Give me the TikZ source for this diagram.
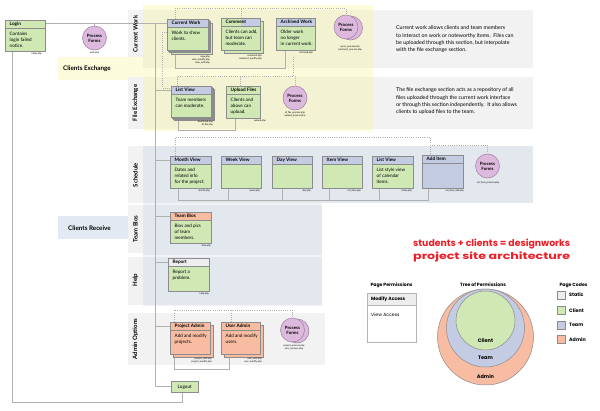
\documentclass[tikz,border=0pt]{standalone}
\usepackage{fontspec}
\setmainfont{Lato}
\newfontfamily\geofont{Poppins}
\pgfdeclarelayer{bands}
\pgfdeclarelayer{wires}
\pgfsetlayers{bands,wires,main}

\definecolor{grn}{HTML}{CFE8B4}
\definecolor{blu}{HTML}{C4CCE3}
\definecolor{sal}{HTML}{F7BCA2}
\definecolor{vio}{HTML}{DDB9DD}
\definecolor{vioedge}{HTML}{9C7E9C}
\definecolor{sta}{HTML}{EDEDED}
\definecolor{edge}{HTML}{8C8C8C}
\definecolor{wirec}{HTML}{B0B0B0}
\definecolor{bandgrey}{HTML}{F2F2F2}
\definecolor{bandblue}{HTML}{E3E8EF}
\definecolor{tabblue}{HTML}{E2E9F2}
\definecolor{hiyel}{HTML}{F5F59A}
\definecolor{ttlred}{HTML}{EE1C25}
\definecolor{permedge}{HTML}{B4B4B4}

\tikzset{
  pagebox/.style={draw=edge, line width=0.5pt, anchor=north west, inner sep=0pt, outer sep=0pt},
  pagehead/.style={draw=edge, line width=0.5pt, anchor=north west, inner sep=0pt, outer sep=0pt, minimum height=8.5},
  pagetitle/.style={anchor=west, inner sep=0pt, font=\fontsize{4.7}{5}\selectfont\bfseries},
  pagetext/.style={anchor=north west, inner sep=0pt, align=left, font=\fontsize{4.6}{6.2}\selectfont},
  halfgreen/.style={path picture={\fill[grn] (path picture bounding box.north west) rectangle (path picture bounding box.south);}},
  procform/.style={circle, draw=vioedge, fill=vio, line width=0.5pt, minimum size=24, inner sep=0pt, align=center, font=\fontsize{4.4}{5}\selectfont\bfseries},
  fname/.style={inner sep=0pt, align=right, anchor=north east, font=\fontsize{2.4}{2.9}\selectfont},
  fnamec/.style={inner sep=0pt, align=center, anchor=north, font=\fontsize{2.4}{2.9}\selectfont},
  wire/.style={draw=wirec, line width=0.7pt},
  dots/.style={draw=wirec, line width=0.6pt, dash pattern=on 0.6pt off 1.6pt},
  seclabel/.style={rotate=90, inner sep=0pt, font=\fontsize{6}{7}\selectfont\bfseries},
  tablabel/.style={anchor=west, inner sep=0pt, font=\fontsize{6.3}{7}\selectfont\bfseries},
  desc/.style={anchor=north west, inner sep=0pt, align=left, font=\fontsize{5.3}{7.4}\selectfont},
  legendhead/.style={inner sep=0pt, font=\geofont\bfseries\fontsize{4.6}{5}\selectfont},
  treelab/.style={inner sep=0pt, font=\geofont\bfseries\fontsize{5}{6}\selectfont},
  codesq/.style={draw=edge, line width=0.4pt, minimum size=8, inner sep=0pt},
  codelab/.style={anchor=west, inner sep=0pt, font=\geofont\bfseries\fontsize{4.8}{5}\selectfont},
}

% name, x, y, width, height, header style, body fill, title, body text
\newcommand\webpage[9]{%
  \node[pagebox, fill=#7, minimum width=#4, minimum height=#5] (#1) at (#2,#3) {};
  \node[pagehead, #6, minimum width=#4] (#1h) at (#1.north west) {};
  \node[pagetitle] (#1t) at ([xshift=4.5pt]#1h.west) {#8};
  \node[pagetext] (#1b) at ([xshift=4.5pt,yshift=-3pt]#1h.south west) {#9};
}

\begin{document}
\begin{tikzpicture}[x=1pt,y=-1pt]
\useasboundingbox (0,0) rectangle (600,410);

% ---------- section bands ----------
\begin{pgfonlayer}{bands}
  \fill[bandgrey] (143,10) rectangle (533,68);
  \fill[bandgrey] (143,77) rectangle (533,129);
  \fill[hiyel, fill opacity=0.35] (143,5) rectangle (373,131) (58,57) rectangle (143,80);
  \fill[bandgrey] (128,10) rectangle (143,57);
  \fill[bandgrey] (128,77) rectangle (143,129);
  \fill[tabblue] (58,216) rectangle (128,239);
  \fill[bandblue, fill opacity=0.5] (143,146) rectangle (322,306);
  \fill[bandblue] (143,146) rectangle (533,203);
  \fill[bandblue] (143,205) rectangle (322,255);
  \fill[bandblue] (143,257) rectangle (322,305);
  \fill[bandgrey] (128,146) rectangle (143,203);
  \fill[bandgrey] (128,205) rectangle (143,253);
  \fill[bandgrey] (128,257) rectangle (143,305);
  \fill[bandgrey] (128,313) rectangle (325,365);
\end{pgfonlayer}

\node[tablabel] (tabex) at (63,69) {Clients Exchange};
\node[tablabel] (tabrc) at (68,228) {Clients Receive};

\node[seclabel] (lcw) at (135.5,34) {Current Work};
\node[seclabel] (lfe) at (135.5,103) {File Exchange};
\node[seclabel] (lsch) at (135.5,175) {Schedule};
\node[seclabel] (ltb) at (135.5,229) {Team Bios};
\node[seclabel] (lhelp) at (135.5,280) {Help};
\node[seclabel] (ladm) at (135.5,339) {Admin Options};

% ---------- login ----------
\webpage{login}{5}{20}{40}{31}{fill=grn}{grn}{Login}{Contains\\login failed\\notice.}
\node[fname] (loginf) at (42,52.5) {index.php};
\node[procform] (auth) at (94.5,38) {Process\\Forms};
\node[fnamec] (authf) at (94.5,51.5) {auth.php};

% ---------- current work ----------
\foreach \s in {4,2.7,1.4}
  \draw[pagebox, fill=grn] (167+\s,19+\s) rectangle +(41,31);
\webpage{cw}{167}{19}{41}{31}{fill=blu}{grn}{Current Work}{Work to show\\clients.}
\node[fname] (cwf) at (210,55.5) {view.php\\view\_modify.php\\view\_edit.php};

\draw[pagebox, fill=grn] (224,21) rectangle +(39,32);
\webpage{cmt}{221}{18}{39}{32}{fill=blu, halfgreen}{grn}{Comment}{Clients can add,\\but team can\\moderate.}
\node[fname] (cmtf) at (262,54.5) {comment.php\\comment\_modify.php};

\webpage{arch}{276}{18}{39}{32}{fill=blu}{grn}{Archived Work}{Older work\\no longer\\in current work.}
\node[fname] (archf) at (313,51.5) {archived.php};

\node[procform] (cwpb) at (350.5,28) {};
\node[procform] (cwp) at (346,27) {Process\\Forms};
\node[fnamec] (cwpf) at (350,45.5) {upsm\_process.php\\comment\_process.php};

% ---------- file exchange ----------
\foreach \s in {3.5,2.3,1.1}
  \draw[pagebox, fill=grn] (171+\s,86+\s) rectangle +(40,31);
\webpage{flv}{171}{86}{40}{31}{fill=blu}{grn}{List View}{Team members\\can moderate.}
\node[fname] (flvf) at (213,121) {download.php\\dl\_file.php};

\webpage{upl}{226}{86}{34}{32}{fill=grn}{grn}{Upload Files}{Clients and\\above can\\upload.}
\node[fname] (uplf) at (266,119.5) {upload.php};

\node[procform] (fep) at (295,98) {Process\\Forms};
\node[fnamec] (fepf) at (295,111.5) {dl\_file\_process.php\\upload\_process.php};

% ---------- schedule ----------
\webpage{month}{170}{156}{41}{32}{fill=blu}{grn}{Month View}{Dates and\\related info\\for the project.}
\webpage{week}{221}{156}{40}{32}{fill=blu}{grn}{Week View}{}
\webpage{day}{272}{156}{40}{32}{fill=blu}{grn}{Day View}{}
\webpage{item}{322}{156}{40}{32}{fill=blu}{grn}{Item View}{}
\webpage{slist}{372}{156}{41}{32}{fill=blu}{grn}{List View}{List style view\\of calendar\\items.}
\webpage{addi}{422}{155}{41}{33}{fill=blu}{blu}{Add Item}{}
\node[procform] (schp) at (487.5,166) {Process\\Forms};
\node[fname] (monthf) at (210,189.5) {month.php};
\node[fname] (weekf) at (260,189.5) {week.php};
\node[fname] (dayf) at (311,189.5) {day.php};
\node[fname] (itemf) at (361,189.5) {cal\_item.php};
\node[fname] (slistf) at (412,189.5) {index.php};
\node[fname] (addif) at (464,189.5) {cal\_item\_add.php};
\node[fnamec] (schpf) at (488,181.5) {cal\_item\_process.php};

% ---------- team bios and help ----------
\webpage{bios}{170}{212}{41}{31}{fill=sal}{grn}{Team Bios}{Bios and pics\\of team\\members.}
\node[fname] (biosf) at (211,244.5) {bios.php};
\webpage{help}{168}{258}{41}{33}{fill=sta}{grn}{Report}{Report a\\problem.}
\node[fname] (helpf) at (209,292.5) {help.php};

% ---------- admin options ----------
\draw[pagebox, fill=sal] (173,325) rectangle +(40,32);
\webpage{padm}{170}{322}{40}{32}{fill=sal}{sal}{Project Admin}{Add and modify\\projects.}
\node[fname] (padmf) at (212,357.5) {project\_edit.php\\project\_modify.php};
\draw[pagebox, fill=sal] (224,325) rectangle +(39,32);
\webpage{uadm}{221}{322}{39}{32}{fill=sal}{sal}{User Admin}{Add and modify\\users.}
\node[fname] (uadmf) at (262,357.5) {user\_edit.php\\user\_modify.php};
\node[procform] (admpb) at (297,331) {};
\node[procform] (admp) at (292.5,330) {Process\\Forms};
\node[fnamec] (admpf) at (294,344.5) {project\_process.php\\user\_process.php};

\node[draw=edge, line width=0.5pt, fill=grn, minimum width=27, minimum height=11, anchor=north west, inner sep=0pt, font=\fontsize{4.7}{5}\selectfont] (logout) at (171,381) {Logout};

% ---------- connectors ----------
\coordinate (spine) at (155,23);
\begin{pgfonlayer}{wires}
  \draw[wire] (login.east |- spine) -- (cw.west |- spine);
  \draw[wire] (auth.north) -- (auth.north |- spine);
  \draw[wire] ([xshift=7pt]login.south west) -- ++(0,351) -| ([xshift=11pt]logout.south west);
  \draw[wire] (spine) |- (logout.west);
  \draw[wire] (flvh.west) -- (flvh.west -| spine);
  \draw[wire] (monthh.west) -- (monthh.west -| spine);
  \draw[wire] (biosh.west) -- (biosh.west -| spine);
  \draw[wire] (helph.west) -- (helph.west -| spine);
  \draw[wire] (padmh.west) -- (padmh.west -| spine);
  % sibling pages
  \draw[wire] ([xshift=8pt]cw.south west) -- ++(0,18) -| ([xshift=9pt]arch.south west);
  \draw[wire] ([xshift=7pt]flv.south west) -- ++(0,13) -| ([xshift=9pt]upl.south west);
  \draw[wire] ([xshift=8pt]month.south west) -- ++(0,12) -| ([xshift=6pt]addi.south west);
  \draw[wire] ([xshift=7pt]week.south west) -- ++(0,12);
  \draw[wire] ([xshift=10pt]day.south west) -- ++(0,12);
  \draw[wire] ([xshift=7pt]item.south west) -- ++(0,12);
  \draw[wire] ([xshift=7pt]slist.south west) -- ++(0,12);
  \draw[wire] ([xshift=4pt]padm.south west) -- ++(0,15) -| ([xshift=8pt]uadm.south west);
  % form submissions
  \draw[dots] ([xshift=8pt]cw.north west) -- ++(0,-11) -| (cwp.north);
  \draw[dots] ([xshift=20pt]cmt.north west) -- ++(0,-10);
  \draw[dots] (cw.north west) ++(0,13) -| (162,88) -- (flvh.west |- 0,88);
  \draw[dots] ([xshift=6pt]flv.north west) -- ++(0,-10) -| (fep.north);
  \draw[dots] ([xshift=14pt]upl.north west) -- ++(0,-10);
  \draw[dots] ([xshift=17pt]arch.south west) ++(0,7) -- ++(0,19);
  \draw[dots] ([xshift=5pt]month.north west) -- ++(0,-19) -| ([xshift=8pt]addi.north west);
  \draw[dots] ([xshift=8pt]addi.north west) ++(0,-10) -| (schp.north);
  \draw[dots] ([xshift=4pt]padm.north west) -- ++(0,-12) -| (admp.north);
  \draw[dots] ([xshift=10pt]uadm.north west) -- ++(0,-12);
\end{pgfonlayer}

% ---------- notes ----------
\node[desc] (cwdesc) at (396,25.5) {Current work allows clients and team members\\to interact on work or noteworthy items.\ \ Files can\\be uploaded through this section, but interpolate\\with the file exchange section.};
\node[desc] (fedesc) at (396,87.5) {The file exchange section acts as a repository of all\\files uploaded through the current work interface\\or through this section independently.\ \ It also allows\\clients to upload files to the team.};

% ---------- title ----------
\node[anchor=base west, inner sep=0pt, text=ttlred] (ttl1) at (413,246.5) {\resizebox{157pt}{!}{\geofont\bfseries students + clients = designworks}};
\node[anchor=base west, inner sep=0pt, text=ttlred] (ttl2) at (413,259.5) {\resizebox{157pt}{7.6pt}{\geofont\bfseries project site architecture}};

% ---------- legend: page permissions ----------
\node[legendhead] (pptitle) at (391.5,285) {Page Permissions};
\node[draw=permedge, line width=0.8pt, fill=white, minimum width=49, minimum height=49, anchor=north west, inner sep=0pt] (perm) at (367,293) {};
\node[draw=permedge, line width=0.6pt, fill=sta, minimum width=49, minimum height=12, anchor=north west, inner sep=0pt] (permh) at (perm.north west) {};
\node[anchor=west, inner sep=0pt, font=\geofont\bfseries\fontsize{4.6}{5}\selectfont] (permm) at ([xshift=4pt]permh.west) {Modify Access};
\node[anchor=west, inner sep=0pt, font=\geofont\fontsize{4.6}{5}\selectfont] (permv) at (371,315) {View Access};

% ---------- legend: tree of permissions ----------
\node[legendhead] (tptitle) at (483,285) {Tree of Permissions};
\node[circle, draw=edge, line width=0.5pt, fill=sal, minimum size=96, inner sep=0pt] (cadm) at (485.5,337) {};
\node[circle, draw=edge, line width=0.5pt, fill=blu, minimum size=78, inner sep=0pt] (cteam) at (485.5,328) {};
\node[circle, draw=edge, line width=0.5pt, fill=grn, minimum size=59, inner sep=0pt] (ccli) at (485.5,320.5) {};
\node[treelab] (tcli) at (485.5,341) {Client};
\node[treelab] (tteam) at (485.5,358) {Team};
\node[treelab] (tadm) at (485.5,377) {Admin};

% ---------- legend: page codes ----------
\node[legendhead] (pctitle) at (573.5,285) {Page Codes};
\node[codesq, fill=sta] (sqs) at (561,295) {};
\node[codesq, fill=grn] (sqc) at (561,310.5) {};
\node[codesq, fill=blu] (sqt) at (561,325) {};
\node[codesq, fill=sal] (sqa) at (561,339.5) {};
\node[codelab] (lbs) at (569,295) {Static};
\node[codelab] (lbc) at (569,310.5) {Client};
\node[codelab] (lbt) at (569,325) {Team};
\node[codelab] (lba) at (569,339.5) {Admin};
\end{tikzpicture}
\end{document}
